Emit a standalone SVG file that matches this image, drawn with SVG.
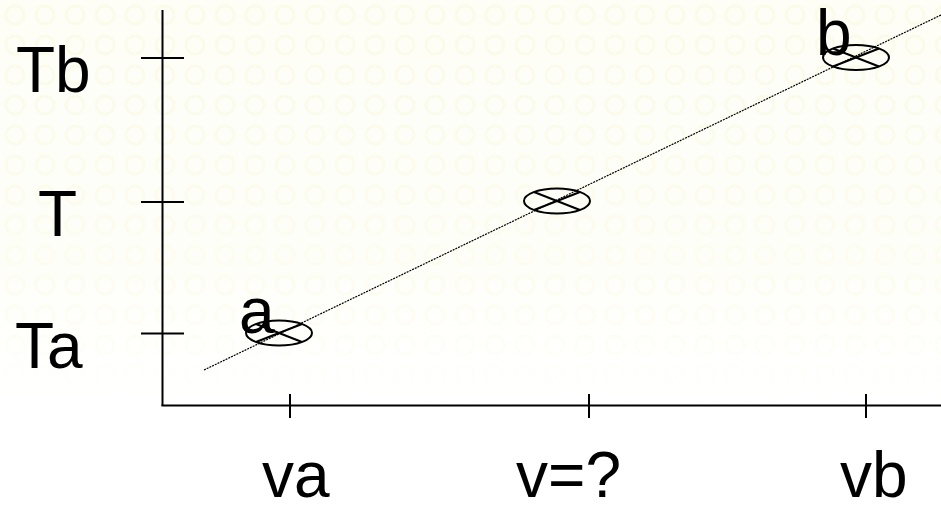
<svg xmlns="http://www.w3.org/2000/svg" width="941" height="505" viewBox="0 0 941 505">
<style>
.ax{stroke:#000;stroke-width:2;fill:none}
.pt{stroke:#000;stroke-width:2;fill:none}
.fit{stroke:#000;stroke-width:1.2;stroke-dasharray:2 1;fill:none}
text{font-family:"Liberation Sans",Arial,sans-serif;font-size:64px;fill:#000}
</style>
<defs>
<pattern id="bgp" width="30" height="30" patternUnits="userSpaceOnUse">
<circle cx="15" cy="15" r="9" fill="none" stroke="#fbfbe9" stroke-width="3"/>
</pattern>
<linearGradient id="fade" x1="0" y1="0" x2="0" y2="1">
<stop offset="0" stop-color="#fff" stop-opacity="0"/>
<stop offset="0.55" stop-color="#fff" stop-opacity="0.3"/>
<stop offset="0.8" stop-color="#fff" stop-opacity="1"/>
</linearGradient>
</defs>
<rect width="941" height="505" fill="#fefef7"/>
<rect width="941" height="505" fill="url(#bgp)"/>
<rect width="941" height="505" fill="url(#fade)"/>
<g id="axes">
<line class="ax" x1="162.5" y1="10" x2="162.5" y2="406"/>
<line class="ax" x1="161.5" y1="405.5" x2="941" y2="405.5"/>
<line class="ax" x1="141" y1="58" x2="184" y2="58"/>
<line class="ax" x1="141" y1="202" x2="184" y2="202"/>
<line class="ax" x1="141" y1="333.5" x2="184" y2="333.5"/>
<line class="ax" x1="290" y1="394" x2="290" y2="418"/>
<line class="ax" x1="589" y1="394" x2="589" y2="418"/>
<line class="ax" x1="866" y1="394" x2="866" y2="418"/>
</g>
<g id="connectors">
<line class="fit" x1="204" y1="370" x2="941" y2="15"/>
</g>
<g id="point-a">
<ellipse class="pt" cx="279" cy="333" rx="33" ry="12.5"/>
<line class="pt" x1="256" y1="324" x2="302" y2="342"/>
<line class="pt" x1="256" y1="342" x2="302" y2="324"/>
<text x="239" y="333">a</text>
</g>
<g id="point-v">
<ellipse class="pt" cx="557" cy="201" rx="33" ry="12.5"/>
<line class="pt" x1="534" y1="192" x2="580" y2="210"/>
<line class="pt" x1="534" y1="210" x2="580" y2="192"/>
</g>
<g id="point-b">
<ellipse class="pt" cx="856" cy="57.5" rx="33" ry="12.5"/>
<line class="pt" x1="833" y1="48.5" x2="879" y2="66.5"/>
<line class="pt" x1="833" y1="66.5" x2="879" y2="48.5"/>
<text x="816" y="55">b</text>
</g>
<g id="labels">
<text x="16" y="92">Tb</text>
<text x="38" y="236">T</text>
<text x="15" y="368">Ta</text>
<text x="262" y="497">va</text>
<text x="516" y="497">v=?</text>
<text x="840" y="497">vb</text>
</g>
</svg>
